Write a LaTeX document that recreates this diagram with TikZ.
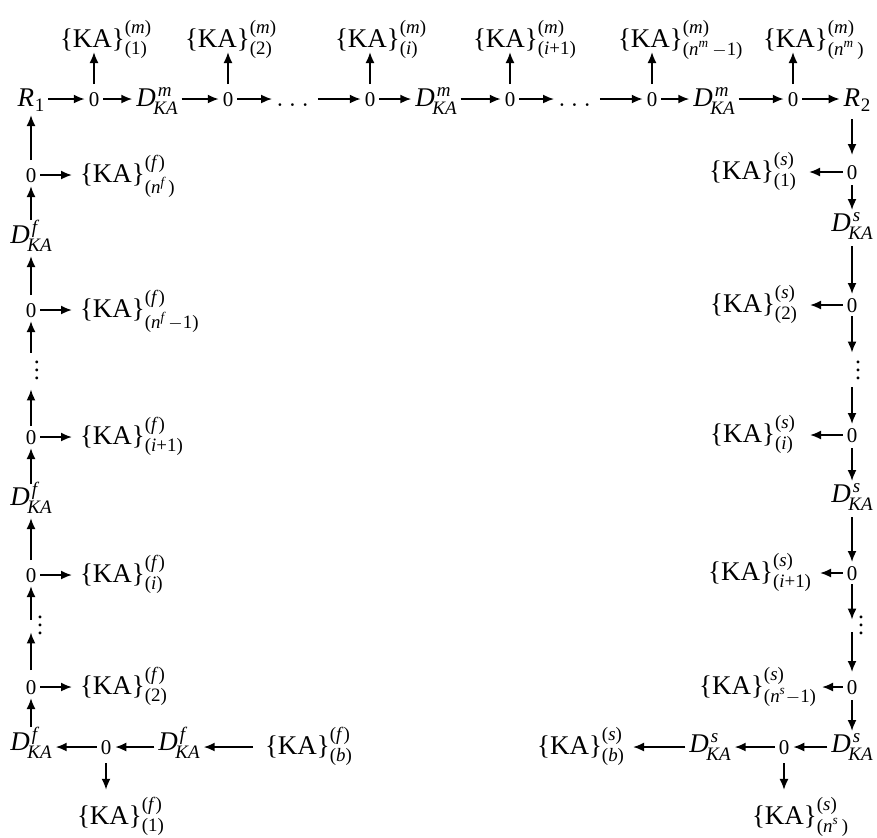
\documentclass[tikz,border=0pt]{standalone}
\usepackage{amsmath}
\usepackage{fontspec}
\setmainfont{Liberation Serif}
\usetikzlibrary{arrows.meta,calc}
\newcommand\myzero{\fontsize{10.5}{12}\selectfont 0}
\newcommand\DKA[1]{\fontsize{13.5}{16}\selectfont\textit{D}\rlap{\kern1pt\raisebox{4.6pt}{\fontsize{9.5}{10}\selectfont\textit{#1}}}\kern-1.2pt\raisebox{-4.3pt}{\fontsize{9.5}{10}\selectfont\textit{KA}}}
\newcommand\RR[1]{\fontsize{13.5}{16}\selectfont\textit{R}\kern0.3pt\raisebox{-2.5pt}{\fontsize{9.5}{10}\selectfont #1}}
\newcommand\KAf[2]{\fontsize{13.5}{16}\selectfont\{KA\}$^{\text{(\textit{#1})}}_{\text{#2}}$}
\newcommand\mydots{\fontsize{12}{12}\selectfont\vbox{\baselineskip=4pt\lineskiplimit=-10pt\hbox{.}\hbox{.}\hbox{.}}}
\newcommand\vdA{\makebox[0pt][l]{\hspace{1.5pt}\mydots}}
\newcommand\vdB{\makebox[0pt][l]{\hspace{3pt}\mydots}}
\newcommand\hd{\fontsize{14}{16}\selectfont$\dots$}
\begin{document}
\begin{tikzpicture}[x=0.5pt,y=-0.5pt,
  ar/.style={-{Latex[length=5.5pt,width=4.5pt]},line width=0.9pt},
  va/.style={ar,shorten <=2pt,shorten >=2pt},
  every node/.style={inner xsep=2pt,inner ysep=0pt,outer sep=0pt},
  zn/.style={anchor=base,text height=7pt,text depth=0pt},
  dn/.style={text height=9.5pt,text depth=4.5pt},
  lab/.style={inner sep=0pt}]
\useasboundingbox (0,0) rectangle (877,837);
% ---------- top row ----------
\node[anchor=base] (R1) at (31,106) {\RR{1}};
\node[zn] (z1) at (94,106) {\myzero};
\node[dn,anchor=base] (Dm1) at (157,106) {\DKA{m}};
\node[zn] (z2) at (228,106) {\myzero};
\node[anchor=base] (h1) at (295,106) {\hd};
\node[zn] (z3) at (370,106) {\myzero};
\node[dn,anchor=base] (Dm2) at (436,106) {\DKA{m}};
\node[zn] (z4) at (510,106) {\myzero};
\node[anchor=base] (h2) at (577,106) {\hd};
\node[zn] (z5) at (652,106) {\myzero};
\node[dn,anchor=base] (Dm3) at (714,106) {\DKA{m}};
\node[zn] (z6) at (793,106) {\myzero};
\node[anchor=base] (R2) at (857,106) {\RR{2}};
% top labels
\node[lab,anchor=base west] (t1) at (60,47) {\KAf{m}{(1)}};
\node[lab,anchor=base west] (t2) at (185,47) {\KAf{m}{(2)}};
\node[lab,anchor=base west] (t3) at (335,47) {\KAf{m}{(\textit{i})}};
\node[lab,anchor=base west] (t4) at (473,47) {\KAf{m}{(\textit{i}+1)}};
\node[lab,anchor=base west] (t5) at (618,47) {\KAf{m}{(\textit{n}$^{\textit{m}}$\,$-$1)}};
\node[lab,anchor=base west] (t6) at (763,47) {\KAf{m}{(\textit{n}$^{\textit{m}}$\,)}};
\draw[ar] (R1.east |- z1) -- (z1.west);
\draw[ar] (z1.east) -- (z1.east -| Dm1.west);
\draw[ar] (Dm1.east |- z2) -- (z2.west);
\draw[ar] (z2.east) -- (z2.east -| h1.west);
\draw[ar] (h1.east |- z3) -- (z3.west);
\draw[ar] (z3.east) -- (z3.east -| Dm2.west);
\draw[ar] (Dm2.east |- z4) -- (z4.west);
\draw[ar] (z4.east) -- (z4.east -| h2.west);
\draw[ar] (h2.east |- z5) -- (z5.west);
\draw[ar] (z5.east) -- (z5.east -| Dm3.west);
\draw[ar] (Dm3.east |- z6) -- (z6.west);
\draw[ar] (z6.east) -- (z6.east -| R2.west);
\foreach \z/\t in {z1/t1,z2/t2,z3/t3,z4/t4,z5/t5,z6/t6}
  \draw[ar,shorten <=4pt] (\z.north) -- ($(\z.north |- \t.base)+(0,5)$);
% ---------- left column ----------
\node[zn] (fa) at (31,182) {\myzero};
\node[dn] (Df1) at (31,238) {\DKA{f}};
\node[zn] (fb) at (31,317) {\myzero};
\node[inner sep=0pt] (vl1) at (31,370) {\vdA};
\node[zn] (fc) at (31,444) {\myzero};
\node[dn] (Df2) at (31,500) {\DKA{f}};
\node[zn] (fd) at (31,582) {\myzero};
\node[inner sep=0pt] (vl2) at (31,625) {\vdB};
\node[zn] (fe) at (31,694) {\myzero};
\node[dn] (Df3) at (31,745) {\DKA{f}};
\node[lab,anchor=base west] (la) at (80,182) {\KAf{f}{(\textit{n}$^{\textit{f}}$\,)}};
\node[lab,anchor=base west] (lb) at (80,317) {\KAf{f}{(\textit{n}$^{\textit{f}}$\,$-$1)}};
\node[lab,anchor=base west] (lc) at (80,444) {\KAf{f}{(\textit{i}+1)}};
\node[lab,anchor=base west] (ld) at (80,582) {\KAf{f}{(\textit{i})}};
\node[lab,anchor=base west] (le) at (80,694) {\KAf{f}{(2)}};
\draw[va,shorten <=4pt] (fa.north) -- (fa.north |- R1.south);
\draw[va] (Df1.north) -- (Df1.north |- fa.south);
\draw[va,shorten <=4pt] (fb.north) -- (fb.north |- Df1.south);
\draw[va,shorten <=4pt] (vl1.north) -- (vl1.north |- fb.south);
\draw[va,shorten >=5pt] (fc.north) -- (fc.north |- vl1.south);
\draw[va,shorten <=1pt] (Df2.north) -- (Df2.north |- fc.south);
\draw[va,shorten <=4pt] (fd.north) -- (fd.north |- Df2.south);
\draw[va,shorten <=-2pt] (vl2.north) -- (vl2.north |- fd.south);
\draw[va,shorten >=-1pt,shorten <=5pt] (fe.north) -- (fe.north |- vl2.south);
\draw[va] (Df3.north) -- (Df3.north |- fe.south);
\foreach \z/\l in {fa/la,fb/lb,fc/lc,fd/ld,fe/le}
  \draw[ar,shorten >=4pt] (\z.east) -- (\z.east -| \l.west);
% bottom-left row
\node[zn] (fz) at (106,754) {\myzero};
\node[dn] (Df4) at (179,745) {\DKA{f}};
\node[lab,anchor=base west] (lbb) at (265,754) {\KAf{f}{(\textit{b})}};
\node[lab,anchor=base west] (l1) at (77,824) {\KAf{f}{(1)}};
\draw[ar] (fz.west) -- (fz.west -| Df3.east);
\draw[ar] (Df4.west |- fz) -- (fz.east);
\draw[ar,shorten <=6pt] (lbb.west |- fz) -- (Df4.east |- fz);
\draw[ar,shorten <=4.5pt,shorten >=3.5pt] (fz.south) -- (fz.south |- l1.north);
% ---------- right column ----------
\node[zn] (sa) at (852,179) {\myzero};
\node[dn] (Ds1) at (852,226) {\DKA{s}};
\node[zn] (sb) at (852,312) {\myzero};
\node[inner sep=0pt] (vr1) at (852,370) {\vdA};
\node[zn] (sc) at (852,442) {\myzero};
\node[dn] (Ds2) at (852,497) {\DKA{s}};
\node[zn] (sd) at (852,580) {\myzero};
\node[inner sep=0pt] (vr2) at (852,625) {\vdB};
\node[zn] (se) at (852,694) {\myzero};
\node[dn] (Ds3) at (852,747) {\DKA{s}};
\node[lab,anchor=base east] (ra) at (797,179) {\KAf{s}{(1)}};
\node[lab,anchor=base east] (rb) at (798,312) {\KAf{s}{(2)}};
\node[lab,anchor=base east] (rc) at (796,442) {\KAf{s}{(\textit{i})}};
\node[lab,anchor=base east] (rd) at (812,580) {\KAf{s}{(\textit{i}+1)}};
\node[lab,anchor=base east] (re) at (817,694) {\KAf{s}{(\textit{n}$^{\textit{s}}$$-$1)}};
\draw[va,shorten <=4pt,shorten >=5pt] (sa.north |- R2.south) -- (sa.north);
\draw[va,shorten <=3pt,shorten >=1pt] (sa.south) -- (sa.south |- Ds1.north);
\draw[va,shorten <=3pt] (Ds1.south) -- (Ds1.south |- sb.north);
\draw[va,shorten >=4pt] (sb.south) -- (sb.south |- vr1.north);
\draw[va,shorten <=4pt] (vr1.south) -- (vr1.south |- sc.north);
\draw[va,shorten <=3pt,shorten >=1pt] (sc.south) -- (sc.south |- Ds2.north);
\draw[va,shorten <=3pt] (Ds2.south) -- (Ds2.south |- sd.north);
\draw[va,shorten >=-2pt] (sd.south) -- (sd.south |- vr2.north);
\draw[va,shorten <=-1pt,shorten >=4pt] (vr2.south) -- (vr2.south |- se.north);
\draw[va,shorten <=3pt,shorten >=1pt] (se.south) -- (se.south |- Ds3.north);
\foreach \z/\l/\s in {sa/ra/6pt,sb/rb/6pt,sc/rc/7pt,sd/rd/4pt,se/re/2.5pt}
  \draw[ar,shorten >=\s] (\z.west) -- (\z.west -| \l.east);
% bottom-right row
\node[zn] (sz) at (784,754) {\myzero};
\node[dn] (Ds4) at (710,747) {\DKA{s}};
\node[lab,anchor=base east] (rbb) at (625,754) {\KAf{s}{(\textit{b})}};
\node[lab,anchor=base west] (ln) at (752,824) {\KAf{s}{(\textit{n}$^{\textit{s}}$\,)}};
\draw[ar] (Ds3.west |- sz) -- (sz.east);
\draw[ar] (sz.west) -- (sz.west -| Ds4.east);
\draw[ar,shorten >=4pt] (Ds4.west |- sz) -- (rbb.east |- sz);
\draw[ar,shorten <=4.5pt,shorten >=3.5pt] (sz.south) -- (sz.south |- ln.north);
\end{tikzpicture}
\end{document}
